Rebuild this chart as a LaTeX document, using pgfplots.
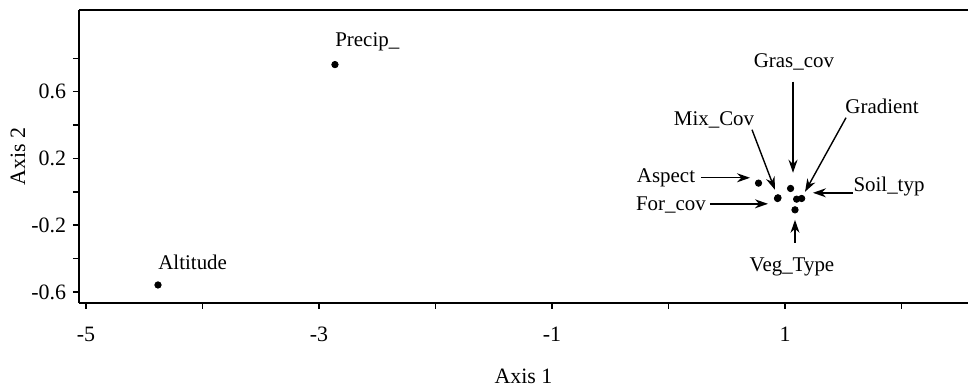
\documentclass[border=0pt]{standalone}
\usepackage{pgfplots}
\pgfplotsset{compat=1.18}
\usepackage{fontspec}
\setmainfont{Liberation Serif}
\usetikzlibrary{arrows.meta}
\begin{document}
\begin{tikzpicture}
\useasboundingbox (-39.5bp,-42bp) rectangle (444.5bp,151.5bp);
\begin{axis}[
  at={(0,0)}, anchor=south west,
  scale only axis, width=444.5bp, height=146.5bp,
  xmin=-5.06, xmax=2.571, ymin=-0.666, ymax=1.089,
  axis x line=box, axis y line=left,
  axis line style={-, line width=1.2bp},
  xtick={-5,-3,-1,1}, minor xtick={-4,-2,0,2},
  ytick={-0.6,-0.2,0.2,0.6}, minor ytick={-0.4,0,0.4,0.8},
  xtick pos=bottom, ytick pos=left,
  tick align=outside,
  major tick length=3bp, minor tick length=3bp,
  every tick/.style={black, line width=0.7bp},
  /pgf/number format/assume math mode=true,
  tick label style={font=\fontsize{11}{12}\selectfont},
  xticklabel style={yshift=-5.5bp},
  label style={font=\fontsize{11}{12}\selectfont},
  xlabel={Axis 1}, ylabel={Axis 2},
  xlabel style={at={(axis description cs:0.5,-0.249)}, anchor=center},
  ylabel style={at={(axis description cs:-0.0686,0.5)}, anchor=center},
  clip=false,
]
\addplot[only marks, mark=*, mark size=1.6bp, black] table {
x y
-4.382 -0.558
-2.863 0.762
0.773 0.052
0.936 -0.040
0.940 -0.036
1.048 0.020
1.100 -0.044
1.143 -0.040
1.086 -0.108
};
\tikzset{lab/.style={font=\fontsize{10.5}{12}\selectfont, inner sep=0pt},
  arr/.style={-{Stealth[length=6.5bp,width=4.5bp]}, line width=0.7bp}}
\node[lab, anchor=west] at (axis cs:-4.382,-0.42) {Altitude};
\node[lab, anchor=west] at (axis cs:-2.863,0.90) {Precip\_};
\node[lab] at (axis cs:1.077,0.780) {Gras\_cov};
\draw[arr] (axis cs:1.069,0.660) -- (axis cs:1.069,0.114);
\node[lab] at (axis cs:1.833,0.510) {Gradient};
\draw[arr] (axis cs:1.524,0.444) -- (axis cs:1.172,0.000);
\node[lab] at (axis cs:0.391,0.432) {Mix\_Cov};
\draw[arr] (axis cs:0.717,0.372) -- (axis cs:0.914,0.012);
\node[lab] at (axis cs:-0.021,0.084) {Aspect};
\draw[arr] (axis cs:0.279,0.084) -- (axis cs:0.700,0.084);
\node[lab] at (axis cs:0.021,-0.078) {For\_cov};
\draw[arr] (axis cs:0.356,-0.072) -- (axis cs:0.854,-0.072);
\node[lab] at (axis cs:1.893,0.030) {Soil\_typ};
\draw[arr] (axis cs:1.584,-0.006) -- (axis cs:1.240,-0.006);
\node[lab] at (axis cs:1.060,-0.450) {Veg\_Type};
\draw[arr] (axis cs:1.086,-0.306) -- (axis cs:1.086,-0.168);
\end{axis}
\end{tikzpicture}
\end{document}
